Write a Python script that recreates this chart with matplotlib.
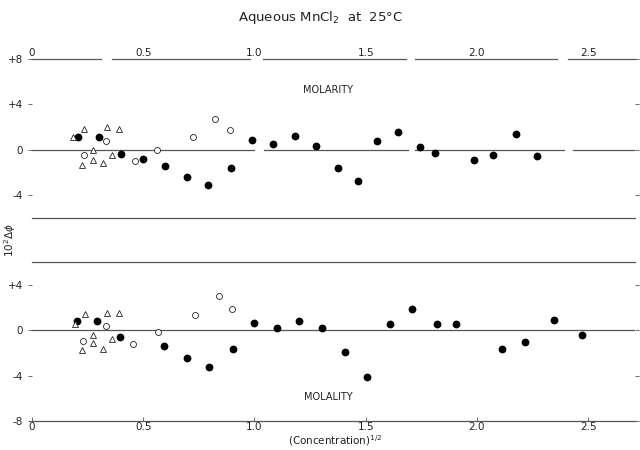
import matplotlib
matplotlib.use('Agg')
import matplotlib.pyplot as plt

plt.rcParams['font.family'] = 'DejaVu Sans'

# molarity panel (top)
molar_filled_x = [0.205, 0.30, 0.40, 0.50, 0.60, 0.695, 0.79, 0.893, 0.99, 1.085, 1.18, 1.275,
                  1.374, 1.464, 1.55, 1.645, 1.742, 1.813, 1.985, 2.073, 2.174, 2.27]
molar_filled_y = [1.13, 1.13, -0.37, -0.81, -1.39, -2.4, -3.13, -1.6, 0.84, 0.49, 1.22, 0.38,
                  -1.57, -2.72, 0.78, 1.54, 0.29, -0.26, -0.87, -0.43, 1.36, -0.52]
molar_open_x = [0.235, 0.333, 0.463, 0.563, 0.722, 0.824, 0.89]
molar_open_y = [-0.43, 0.78, -1.0, 0.0, 1.13, 2.7, 1.74]
molar_tri_x = [0.186, 0.235, 0.223, 0.276, 0.276, 0.318, 0.336, 0.358, 0.39]
molar_tri_y = [1.13, 1.86, -1.3, -0.9, 0.0, -1.19, 2.0, -0.46, 1.86]

# molality panel (bottom)
molal_filled_x = [0.204, 0.294, 0.396, 0.595, 0.698, 0.797, 0.902, 1.0, 1.1, 1.2, 1.305,
                  1.405, 1.507, 1.607, 1.71, 1.82, 1.907, 2.112, 2.214, 2.347, 2.473]
molal_filled_y = [0.78, 0.8, -0.6, -1.4, -2.47, -3.2, -1.63, 0.65, 0.2, 0.8, 0.17,
                  -1.96, -4.1, 0.55, 1.9, 0.58, 0.58, -1.62, -1.07, 0.9, -0.4]
molal_open_x = [0.231, 0.333, 0.455, 0.568, 0.733, 0.84, 0.9]
molal_open_y = [-0.98, 0.4, -1.19, -0.15, 1.33, 3.0, 1.85]
molal_tri_x = [0.193, 0.238, 0.223, 0.273, 0.276, 0.318, 0.336, 0.358, 0.39]
molal_tri_y = [0.5, 1.39, -1.77, -0.4, -1.13, -1.62, 1.48, -0.78, 1.48]

x_ticks = [0, 0.5, 1.0, 1.5, 2.0, 2.5]
x_labels = ['0', '0.5', '1.0', '1.5', '2.0', '2.5']

ink = '#222222'
rule = '#555555'

fig = plt.figure(figsize=(6.4, 4.5), dpi=100)
ax1 = fig.add_axes([0.05, 0.5156, 0.942, 0.3533])
ax2 = fig.add_axes([0.05, 0.0644, 0.942, 0.3533])


def draw_points(ax, fx, fy, ox, oy, tx, ty):
    ax.plot(fx, fy, 'o', color='black', markersize=4.6, zorder=3)
    ax.plot(ox, oy, 'o', mfc='white', mec=ink, mew=0.6, markersize=4.3, zorder=3)
    ax.plot(tx, ty, '^', mfc='white', mec=ink, mew=0.6, markersize=4.6, zorder=3)


draw_points(ax1, molar_filled_x, molar_filled_y, molar_open_x, molar_open_y, molar_tri_x, molar_tri_y)
draw_points(ax2, molal_filled_x, molal_filled_y, molal_open_x, molal_open_y, molal_tri_x, molal_tri_y)

# rules in the top panel are pieced together, with small gaps
top_pieces = [(0, 0.31), (0.36, 0.98), (1.04, 1.68), (1.72, 2.36), (2.41, 2.71)]
zero_pieces = [(0, 1.0), (1.045, 1.69), (1.72, 2.39), (2.43, 2.71)]
for a, b in top_pieces:
    ax1.plot([a, b], [8, 8], color=rule, lw=0.9, clip_on=False)
for a, b in zero_pieces:
    ax1.plot([a, b], [0, 0], color=rule, lw=0.9)
ax1.plot([0, 2.71], [-6, -6], color=rule, lw=0.9, clip_on=False)

ax2.plot([0, 2.71], [6, 6], color=rule, lw=0.9, clip_on=False)
ax2.plot([0, 2.71], [0, 0], color=rule, lw=0.9)
ax2.plot([0, 2.71], [-8, -8], color=rule, lw=0.9, clip_on=False)

ax1.set_ylim(-6, 8)
ax2.set_ylim(-8, 6)
for ax in (ax1, ax2):
    ax.set_xlim(0, 2.71)
    for s in ax.spines.values():
        s.set_visible(False)
    ax.tick_params(axis='both', colors=rule, labelcolor=ink, labelsize=7.5, length=3, width=0.6)
    ax.tick_params(axis='y', right=True, which='both')

ax1.set_yticks([8, 4, 0, -4])
ax1.set_yticklabels(['+8', '+4', '0', '-4'])
ax1.set_xticks(x_ticks)
ax1.xaxis.tick_top()
ax1.set_xticklabels(x_labels)
ax1.tick_params(axis='x', length=0, pad=1)

ax2.set_yticks([4, 0, -4, -8])
ax2.set_yticklabels(['+4', '0', '-4', '-8'])
ax2.set_xticks(x_ticks)
ax2.set_xticklabels(x_labels)
ax2.tick_params(axis='x', length=3, pad=1, direction='in')

ax1.text(1.33, 5.3, 'MOLARITY', fontsize=7, color=ink, ha='center', va='center')
ax2.text(1.33, -5.9, 'MOLALITY', fontsize=7, color=ink, ha='center', va='center')

fig.text(0.5, 0.962, r'Aqueous MnCl$_2$  at  25°C', fontsize=9.5, color=ink, ha='center', va='center')
fig.text(0.016, 0.467, r'10$^2$$\Delta\phi$', fontsize=7.5, color=ink, rotation=90, ha='center', va='center')
fig.text(0.523, 0.02, r'(Concentration)$^{1/2}$', fontsize=7.5, color=ink, ha='center', va='center')

fig.savefig('out.png', dpi=100)
